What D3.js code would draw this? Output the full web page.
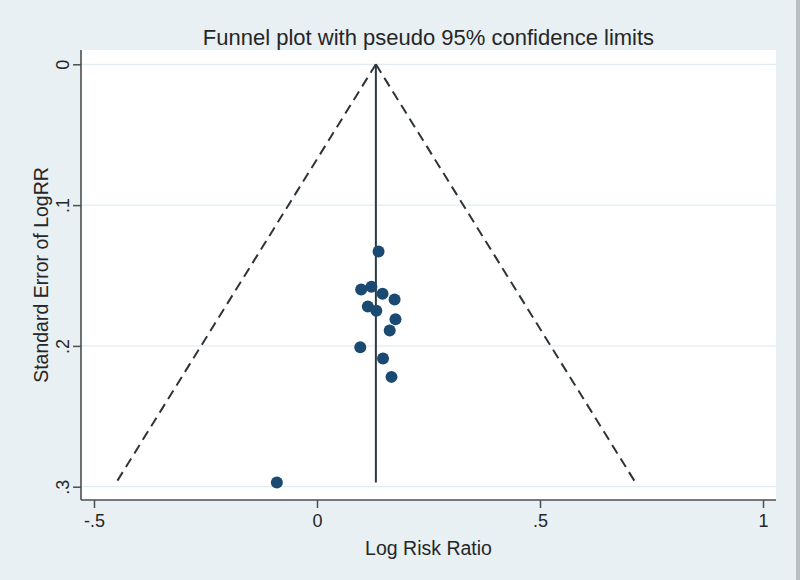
<!DOCTYPE html>
<html>
<head>
<meta charset="utf-8">
<script src="https://cdn.jsdelivr.net/npm/d3@7"></script>
<style>
  html, body { margin: 0; padding: 0; background: #e8f0f3; }
  svg { display: block; }
  text { font-family: "Liberation Sans", Arial, sans-serif; fill: #262626; }
</style>
</head>
<body>
<svg id="chart" width="800" height="580"></svg>
<script>
// ---- data ----
const logRR = [0.138, 0.099, 0.122, 0.147, 0.174, 0.114, 0.133, 0.176, 0.163, 0.097, 0.148, 0.167, -0.090];
const seLogRR = [0.133, 0.160, 0.158, 0.163, 0.167, 0.172, 0.175, 0.181, 0.189, 0.201, 0.209, 0.222, 0.297];
const pooled = 0.132;
const funnelSE = [0, 0.297];
const lowerLimit = [0.132, -0.450];
const upperLimit = [0.132, 0.714];
const xTicks = [-0.5, 0, 0.5, 1];
const xTickLabels = ["-.5", "0", ".5", "1"];
const yTicks = [0, 0.1, 0.2, 0.3];
const yTickLabels = ["0", ".1", ".2", ".3"];
const titleText = "Funnel plot with pseudo 95% confidence limits";
const xTitle = "Log Risk Ratio";
const yTitle = "Standard Error of LogRR";

// ---- layout ----
const svg = d3.select("#chart");
const W = 800, H = 580;
const plot = { left: 81, right: 776, top: 50, bottom: 500 };

svg.append("rect").attr("x", 0).attr("y", 0).attr("width", W).attr("height", H).attr("fill", "#e8f0f3");
svg.append("rect").attr("x", 796).attr("y", 0).attr("width", 4).attr("height", H).attr("fill", "#b9bfc2");

const x = d3.scaleLinear().domain([-0.5, 1]).range([94, 763]);
const y = d3.scaleLinear().domain([0, 0.3]).range([64.3, 486.7]);

// plot region
svg.append("rect")
  .attr("x", plot.left).attr("y", plot.top)
  .attr("width", plot.right - plot.left).attr("height", plot.bottom - plot.top)
  .attr("fill", "#ffffff");

// grid lines
svg.append("g").selectAll("line").data(yTicks).join("line")
  .attr("x1", plot.left).attr("x2", plot.right)
  .attr("y1", d => y(d)).attr("y2", d => y(d))
  .attr("stroke", "#e2ecf0").attr("stroke-width", 1.2);

// axes
const xAxis = d3.axisBottom(x).tickValues(xTicks).tickFormat((d, i) => xTickLabels[i]).tickSize(8).tickPadding(6);
const gx = svg.append("g").attr("transform", `translate(0,${plot.bottom})`).call(xAxis);
gx.select(".domain").attr("d", `M${plot.left},0H${plot.right}`).attr("stroke", "#4a4f52").attr("stroke-width", 1.6);
gx.selectAll(".tick line").attr("stroke", "#4a4f52").attr("stroke-width", 1.5);
gx.selectAll(".tick text").attr("font-size", 18).attr("fill", "#262626").attr("font-family", "Liberation Sans, Arial, sans-serif");

const yAxis = d3.axisLeft(y).tickValues(yTicks).tickFormat((d, i) => yTickLabels[i]).tickSize(8).tickPadding(6);
const gy = svg.append("g").attr("transform", `translate(${plot.left},0)`).call(yAxis);
gy.select(".domain").attr("d", `M0,${plot.top}V${plot.bottom}`).attr("stroke", "#4a4f52").attr("stroke-width", 1.6);
gy.selectAll(".tick line").attr("stroke", "#4a4f52").attr("stroke-width", 1.5);
gy.selectAll(".tick text")
  .attr("font-size", 18).attr("fill", "#262626").attr("font-family", "Liberation Sans, Arial, sans-serif")
  .attr("x", null).attr("dy", null)
  .attr("text-anchor", "middle")
  .attr("transform", "translate(-12,0) rotate(-90)");

// funnel
const line = d3.line().x(d => x(d[0])).y(d => y(d[1]));
svg.append("path")
  .attr("d", line([[lowerLimit[0], funnelSE[0]], [lowerLimit[1], funnelSE[1]]]))
  .attr("fill", "none").attr("stroke", "#2d3438").attr("stroke-width", 2).attr("stroke-dasharray", "10,6");
svg.append("path")
  .attr("d", line([[upperLimit[0], funnelSE[0]], [upperLimit[1], funnelSE[1]]]))
  .attr("fill", "none").attr("stroke", "#2d3438").attr("stroke-width", 2).attr("stroke-dasharray", "10,6");
svg.append("path")
  .attr("d", line([[pooled, funnelSE[0]], [pooled, funnelSE[1]]]))
  .attr("fill", "none").attr("stroke", "#2d3a40").attr("stroke-width", 2);

// points
svg.append("g").selectAll("circle").data(logRR).join("circle")
  .attr("cx", d => x(d)).attr("cy", (d, i) => y(seLogRR[i]))
  .attr("r", 6).attr("fill", "#1a4a72");

// titles
svg.append("text").attr("x", (plot.left + plot.right) / 2).attr("y", 45)
  .attr("text-anchor", "middle").attr("font-size", 22).text(titleText);
svg.append("text").attr("x", (plot.left + plot.right) / 2).attr("y", 555)
  .attr("text-anchor", "middle").attr("font-size", 19.5).text(xTitle);
svg.append("text").attr("transform", `translate(48,${(plot.top + plot.bottom) / 2}) rotate(-90)`)
  .attr("text-anchor", "middle").attr("font-size", 19.5).text(yTitle);
</script>
</body>
</html>
